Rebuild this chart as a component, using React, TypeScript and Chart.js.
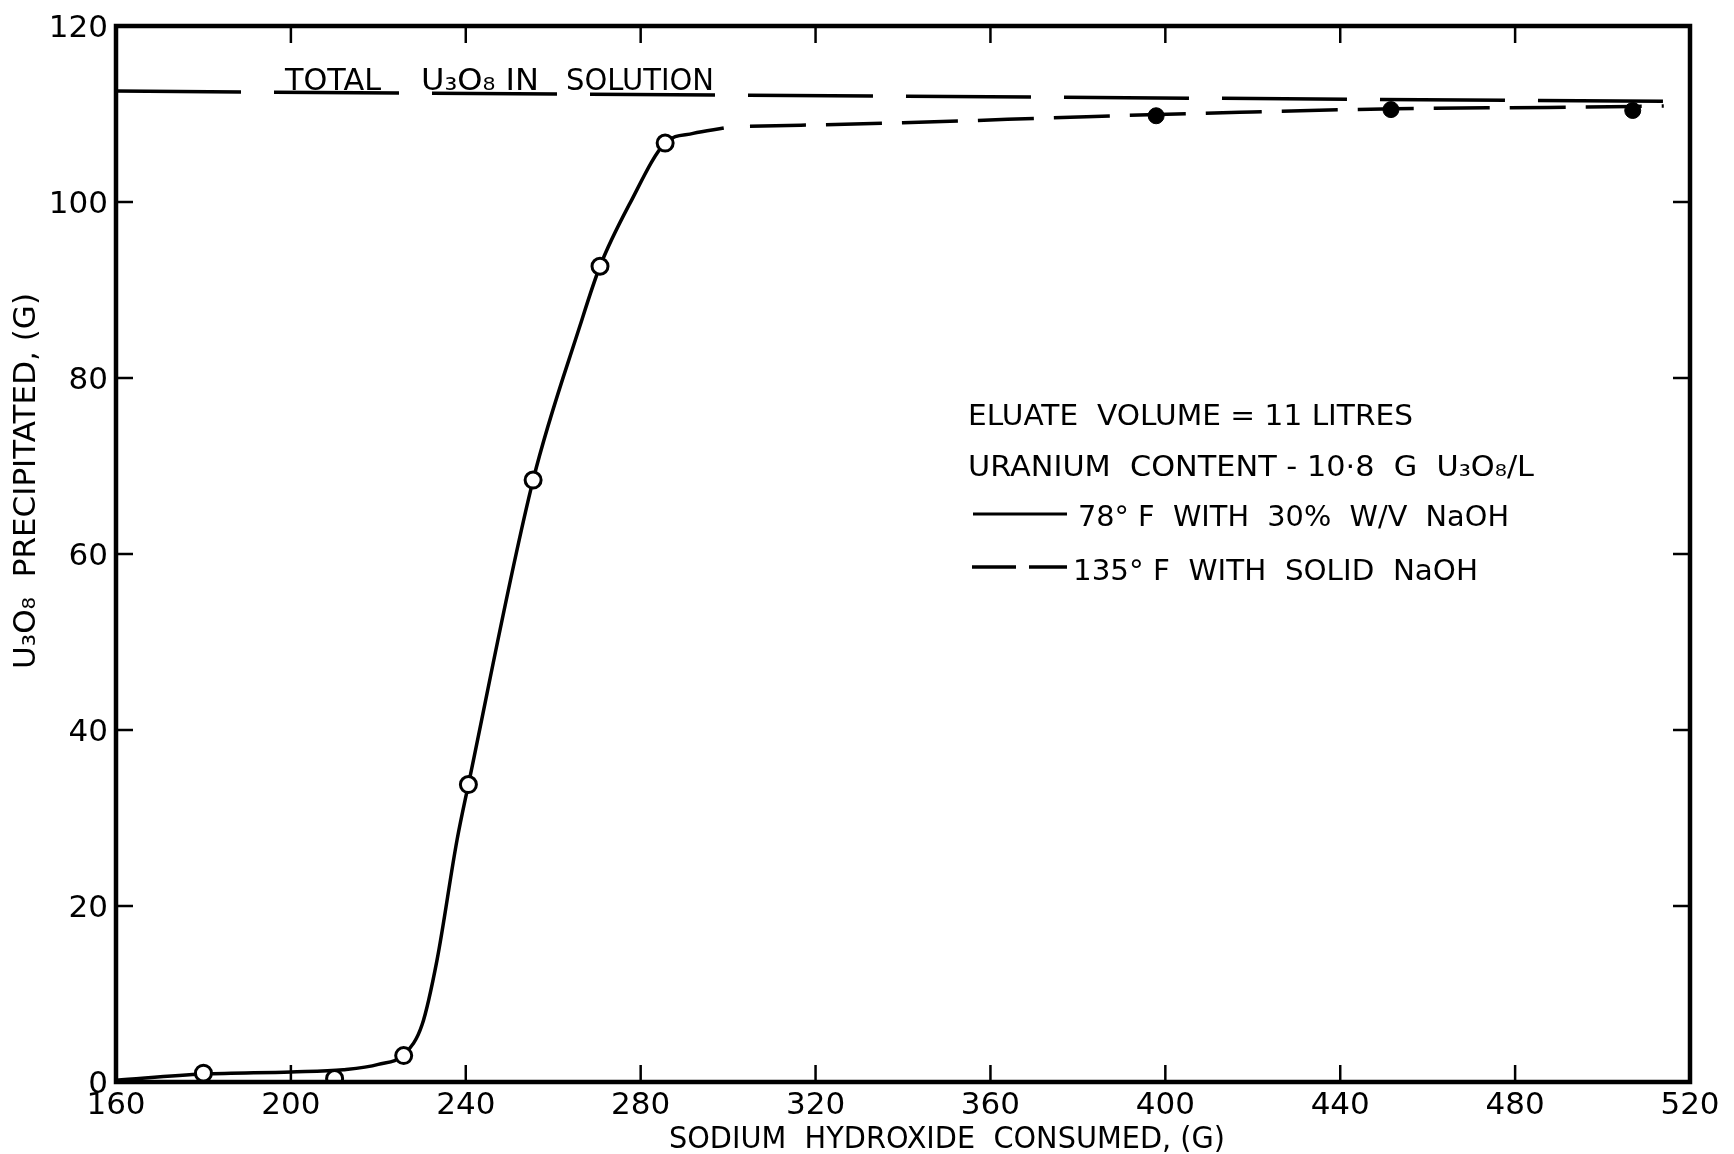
import React, { useEffect, useRef } from "react";
import { Chart, registerables } from "chart.js";

Chart.register(...registerables);

const FONT = '"DejaVu Sans", "Liberation Sans", sans-serif';

// Axis ticks
const X_TICKS = [160, 200, 240, 280, 320, 360, 400, 440, 480, 520];
const Y_TICKS = [0, 20, 40, 60, 80, 100, 120];

// 78°F with 30% W/V NaOH – measured points (open circles)
const OPEN_X = [180, 210, 225.8, 240.6, 255.4, 270.7, 285.6];
const OPEN_Y = [1.0, 0.4, 3.0, 33.8, 68.4, 92.7, 106.7];

// 78°F smooth curve drawn through the points
const CURVE_X = [160, 180, 200, 212, 220, 226, 230, 233.4, 238, 240.6, 255.4, 266.1, 270.7, 277.6, 285.6, 292, 299];
const CURVE_Y = [0.2, 0.9, 1.15, 1.4, 2.0, 3.2, 6.5, 13.8, 27.5, 33.8, 68.4, 85.9, 92.7, 99.9, 106.7, 107.8, 108.4];

// 135°F with solid NaOH – measured points (filled circles)
const FILLED_X = [397.9, 451.6, 506.9];
const FILLED_Y = [109.8, 110.5, 110.4];

// 135°F dashed curve
const HOT_X = [305, 340, 382, 417, 452.5, 487.5, 514];
const HOT_Y = [108.6, 109.0, 109.7, 110.2, 110.6, 110.75, 110.9];

// Total U3O8 in solution (long dashes)
const TOTAL_X = [160, 514];
const TOTAL_Y = [112.6, 111.45];

const pts = (xs: number[], ys: number[]) => xs.map((x, i) => ({ x, y: ys[i] }));

function fitText(ctx: CanvasRenderingContext2D, text: string, x: number, y: number, width: number, size: number) {
  ctx.save();
  ctx.font = `${size}px ${FONT}`;
  ctx.textAlign = "left";
  ctx.textBaseline = "alphabetic";
  const w = ctx.measureText(text).width;
  ctx.translate(x, y);
  ctx.scale(width / w, 1);
  ctx.fillText(text, 0, 0);
  ctx.restore();
}

const paperPlugin = {
  id: "paper",
  afterDraw(chart: any) {
    const { ctx, chartArea: a } = chart;
    const xs = chart.scales.x;
    const ys = chart.scales.y;
    ctx.save();
    ctx.strokeStyle = "#000";
    ctx.fillStyle = "#000";
    ctx.lineCap = "butt";

    // frame
    ctx.lineWidth = 4.5;
    ctx.strokeRect(a.left, a.top, a.right - a.left, a.bottom - a.top);

    // inward ticks
    const TL = 17;
    ctx.lineWidth = 2.5;
    const seg = (x1: number, y1: number, x2: number, y2: number) => {
      ctx.beginPath();
      ctx.moveTo(x1, y1);
      ctx.lineTo(x2, y2);
      ctx.stroke();
    };
    X_TICKS.slice(1, -1).forEach((v) => {
      const px = xs.getPixelForValue(v);
      seg(px, a.bottom, px, a.bottom - TL);
      seg(px, a.top, px, a.top + TL);
    });
    Y_TICKS.slice(1, -1).forEach((v) => {
      const py = ys.getPixelForValue(v);
      seg(a.left, py, a.left + TL, py);
      seg(a.right, py, a.right - TL, py);
    });

    // tick labels
    ctx.font = `31px ${FONT}`;
    ctx.textBaseline = "alphabetic";
    ctx.textAlign = "center";
    X_TICKS.forEach((v) => {
      ctx.fillText(String(v), xs.getPixelForValue(v), a.bottom + 31.5);
    });
    ctx.textAlign = "right";
    Y_TICKS.forEach((v) => {
      ctx.fillText(String(v), a.left - 8, ys.getPixelForValue(v) + 11);
    });

    // axis titles
    fitText(ctx, "SODIUM  HYDROXIDE  CONSUMED, (G)", 669, 1148, 556, 30);
    ctx.save();
    ctx.translate(35, 669);
    ctx.rotate(-Math.PI / 2);
    fitText(ctx, "U₃O₈  PRECIPITATED, (G)", 0, 0, 376, 30);
    ctx.restore();

    // total line label
    fitText(ctx, "TOTAL", 285, 90, 96, 30);
    fitText(ctx, "U₃O₈ IN", 421, 90, 118, 30);
    fitText(ctx, "SOLUTION", 566, 90, 148, 30);

    // legend / notes block
    fitText(ctx, "ELUATE  VOLUME = 11 LITRES", 968, 424.5, 445, 29);
    fitText(ctx, "URANIUM  CONTENT - 10·8  G  U₃O₈/L", 968, 475.5, 566, 29);
    ctx.lineWidth = 3;
    seg(973, 514, 1067, 514);
    fitText(ctx, "78° F  WITH  30%  W/V  NaOH", 1078, 526, 431, 29);
    ctx.lineWidth = 3.5;
    seg(972, 567, 1016, 567);
    seg(1029, 567, 1067, 567);
    fitText(ctx, "135° F  WITH  SOLID  NaOH", 1073, 579.5, 405, 29);

    ctx.restore();
  },
};

export default function App() {
  const ref = useRef<HTMLCanvasElement | null>(null);
  useEffect(() => {
    if (!ref.current) return;
    const chart = new Chart(ref.current, {
      type: "scatter",
      data: {
        datasets: [
          {
            label: "78°F points",
            data: pts(OPEN_X, OPEN_Y),
            showLine: false,
            pointRadius: 8,
            pointBorderWidth: 3,
            pointBackgroundColor: "#fff",
            pointBorderColor: "#000",
          },
          {
            label: "135°F points",
            data: pts(FILLED_X, FILLED_Y),
            showLine: false,
            pointRadius: 8,
            pointBorderWidth: 1,
            pointBackgroundColor: "#000",
            pointBorderColor: "#000",
          },
          {
            label: "78°F curve",
            data: pts(CURVE_X, CURVE_Y),
            showLine: true,
            borderColor: "#000",
            borderWidth: 3.5,
            pointRadius: 0,
            cubicInterpolationMode: "monotone",
          },
          {
            label: "135°F curve",
            data: pts(HOT_X, HOT_Y),
            showLine: true,
            borderColor: "#000",
            borderWidth: 3.5,
            borderDash: [56, 20],
            pointRadius: 0,
            cubicInterpolationMode: "monotone",
          },
          {
            label: "Total U3O8",
            data: pts(TOTAL_X, TOTAL_Y),
            showLine: true,
            borderColor: "#000",
            borderWidth: 3.5,
            borderDash: [125, 33],
            pointRadius: 0,
          },
        ],
      },
      options: {
        animation: false,
        responsive: false,
        maintainAspectRatio: false,
        layout: { padding: { left: 116, right: 44, top: 26, bottom: 72 } },
        plugins: { legend: { display: false }, tooltip: { enabled: false } },
        scales: {
          x: {
            type: "linear",
            min: 160,
            max: 520,
            afterBuildTicks: (s: any) => {
              s.ticks = X_TICKS.map((v) => ({ value: v }));
            },
            afterFit: (s: any) => {
              s.height = 0;
            },
            ticks: { display: false },
            grid: { display: false },
            border: { display: false },
          },
          y: {
            type: "linear",
            min: 0,
            max: 120,
            afterBuildTicks: (s: any) => {
              s.ticks = Y_TICKS.map((v) => ({ value: v }));
            },
            afterFit: (s: any) => {
              s.width = 0;
            },
            ticks: { display: false },
            grid: { display: false },
            border: { display: false },
          },
        },
      },
      plugins: [paperPlugin],
    } as any);
    return () => chart.destroy();
  }, []);

  return (
    <div style={{ position: "absolute", left: 0, top: 0, width: 1734, height: 1154, background: "#fff" }}>
      <canvas ref={ref} width={1734} height={1154} style={{ display: "block" }} />
    </div>
  );
}
